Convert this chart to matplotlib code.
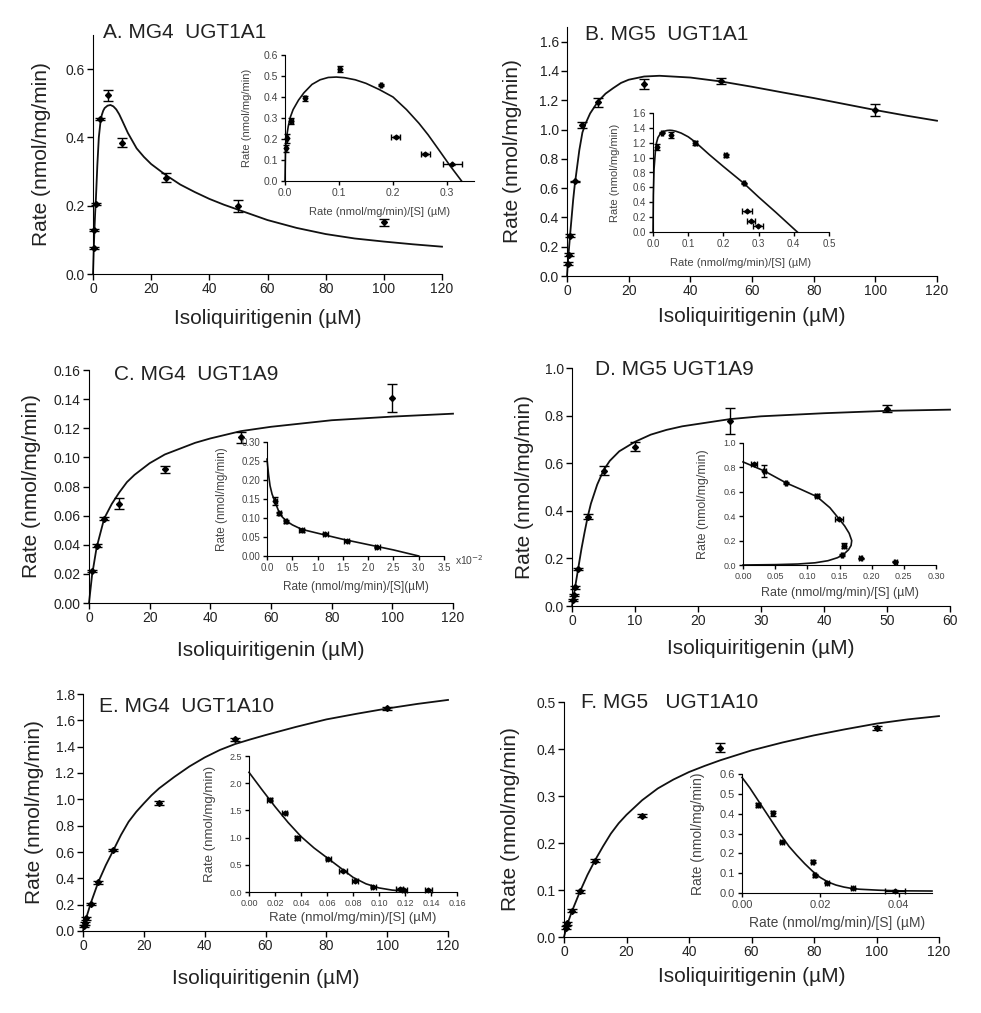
import numpy as np
import matplotlib.pyplot as plt

plt.rcParams['font.family'] = ['Liberation Sans', 'DejaVu Sans']

W, H = 981, 1013

# ---- A. MG4 UGT1A1 ----
a_s = [0.25, 0.5, 1, 2.5, 5, 10, 25, 50, 100]
a_v = [0.075, 0.13, 0.205, 0.454, 0.524, 0.385, 0.282, 0.200, 0.152]
a_err = [0.003, 0.003, 0.004, 0.003, 0.016, 0.013, 0.013, 0.017, 0.010]
a_fit_s = [0, 0.25, 0.5, 0.75, 1, 1.5, 2, 2.5, 3, 3.5, 4, 5, 6, 7, 8, 9, 10, 12, 15, 17.5, 20, 25, 30, 35, 40,
           45, 50, 60, 70, 80, 90, 100, 110, 120]
a_fit_v = [0, 0.07, 0.13, 0.18, 0.22, 0.32, 0.40, 0.44, 0.465, 0.478, 0.486, 0.493, 0.495, 0.491, 0.482, 0.468,
           0.45, 0.413, 0.368, 0.343, 0.322, 0.29, 0.262, 0.24, 0.22, 0.203, 0.188, 0.158, 0.135, 0.117, 0.104,
           0.095, 0.087, 0.08]
a_in_x = [0.31, 0.26, 0.205, 0.178, 0.101, 0.037, 0.012, 0.004, 0.002]
a_in_y = [0.080, 0.130, 0.211, 0.457, 0.533, 0.394, 0.287, 0.203, 0.155]
a_in_xerr = [0.018, 0.008, 0.008, 0.002, 0.002, 0.002, 0.002, 0.002, 0.002]
a_in_yerr = [0.003, 0.005, 0.005, 0.006, 0.015, 0.012, 0.015, 0.02, 0.015]
a_in_fit_x = [0.0, 0.0005, 0.001, 0.003, 0.006, 0.01, 0.015, 0.025, 0.035, 0.05, 0.065, 0.08, 0.095, 0.11,
              0.13, 0.15, 0.175, 0.2, 0.225, 0.248, 0.265, 0.285, 0.305, 0.327]
a_in_fit_y = [0.0, 0.08, 0.16, 0.21, 0.26, 0.305, 0.34, 0.385, 0.42, 0.46, 0.482, 0.493, 0.495, 0.492,
              0.482, 0.465, 0.435, 0.40, 0.34, 0.275, 0.22, 0.148, 0.075, 0.0]

# ---- B. MG5 UGT1A1 ----
b_s = [0.25, 0.5, 1, 2.5, 5, 10, 25, 50, 100]
b_v = [0.085, 0.145, 0.274, 0.646, 1.03, 1.185, 1.31, 1.333, 1.133]
b_err = [0.01, 0.01, 0.01, 0.005, 0.02, 0.03, 0.035, 0.02, 0.04]
b_fit_s = [0, 0.25, 0.5, 1, 1.5, 2, 2.5, 3, 4, 5, 6, 7.5, 10, 12.5, 15, 17.5, 20, 25, 30, 40, 50, 60, 70, 80,
           90, 100, 110, 120]
b_fit_v = [0, 0.08, 0.15, 0.28, 0.40, 0.52, 0.62, 0.70, 0.86, 0.98, 1.04, 1.11, 1.19, 1.245, 1.283, 1.318,
           1.34, 1.362, 1.367, 1.355, 1.328, 1.292, 1.253, 1.215, 1.174, 1.133, 1.095, 1.06]
b_in_x = [0.011, 0.026, 0.052, 0.12, 0.206, 0.258, 0.267, 0.279, 0.298]
b_in_y = [1.145, 1.337, 1.31, 1.2, 1.034, 0.655, 0.276, 0.143, 0.085]
b_in_xerr = [0.002, 0.002, 0.002, 0.004, 0.004, 0.002, 0.015, 0.012, 0.014]
b_in_yerr = [0.04, 0.01, 0.04, 0.03, 0.02, 0.005, 0.005, 0.005, 0.005]
b_in_fit_x = [0, 0.001, 0.003, 0.007, 0.01, 0.014, 0.02, 0.025, 0.032, 0.04, 0.048, 0.055, 0.065, 0.08, 0.1,
              0.12, 0.16, 0.2, 0.258, 0.3, 0.35, 0.41]
b_in_fit_y = [0, 0.5, 0.85, 1.1, 1.2, 1.27, 1.315, 1.34, 1.355, 1.365, 1.368, 1.365, 1.355, 1.33, 1.28,
              1.21, 1.04, 0.88, 0.655, 0.47, 0.26, 0.0]

# ---- C. MG4 UGT1A9 ----
c_s = [1, 2.5, 5, 10, 25, 50, 100]
c_v = [0.022, 0.0394, 0.0578, 0.0683, 0.0917, 0.1137, 0.141]
c_err = [0.001, 0.001, 0.001, 0.004, 0.0025, 0.004, 0.0097]
c_fit_s = [0, 1, 2.5, 5, 7.5, 10, 12.5, 15, 17.5, 20, 25, 30, 35, 40, 50, 60, 80, 100, 120]
c_fit_v = [0, 0.019, 0.038, 0.058, 0.068, 0.076, 0.083, 0.088, 0.092, 0.096, 0.102, 0.106, 0.11, 0.113,
           0.118, 0.121, 0.1255, 0.128, 0.13]
c_in_x = [0.164, 0.243, 0.375, 0.69, 1.15, 1.58, 2.18]
c_in_y = [0.145, 0.113, 0.091, 0.0675, 0.059, 0.039, 0.023]
c_in_xerr = [0.03, 0.03, 0.03, 0.05, 0.05, 0.05, 0.05]
c_in_yerr = [0.01, 0.004, 0.003, 0.004, 0.002, 0.002, 0.002]
c_in_fit_x = [0, 0.03, 0.06, 0.1, 0.16, 0.24, 0.3, 0.375, 0.5, 0.69, 1.0, 1.5, 2.0, 2.5, 3.0]
c_in_fit_y = [0.255, 0.215, 0.185, 0.163, 0.142, 0.115, 0.103, 0.093, 0.082, 0.07, 0.06, 0.044, 0.03,
              0.016, 0.0]

# ---- D. MG5 UGT1A9 ----
d_s = [0.1, 0.25, 0.5, 1, 2.5, 5, 10, 25, 50]
d_v = [0.025, 0.047, 0.078, 0.156, 0.376, 0.569, 0.67, 0.776, 0.829]
d_err = [0.005, 0.005, 0.005, 0.005, 0.01, 0.02, 0.02, 0.055, 0.015]
d_fit_s = [0, 0.25, 0.5, 1, 1.5, 2, 2.5, 3, 4, 5, 6, 7.5, 10, 12.5, 15, 17.5, 20, 25, 30, 40, 50, 60]
d_fit_v = [0, 0.04, 0.08, 0.16, 0.24, 0.31, 0.376, 0.43, 0.51, 0.57, 0.61, 0.65, 0.69, 0.72, 0.74, 0.755,
           0.765, 0.785, 0.797, 0.81, 0.82, 0.825]
d_in_x = [0.017, 0.033, 0.067, 0.115, 0.149, 0.157, 0.154, 0.183, 0.237]
d_in_y = [0.826, 0.771, 0.673, 0.569, 0.373, 0.158, 0.082, 0.054, 0.027]
d_in_xerr = [0.004, 0.002, 0.002, 0.003, 0.006, 0.003, 0.002, 0.002, 0.002]
d_in_yerr = [0.01, 0.05, 0.01, 0.015, 0.008, 0.02, 0.005, 0.005, 0.005]
d_in_fit_x = [0.0, 0.033, 0.067, 0.09, 0.115, 0.135, 0.149, 0.158, 0.165, 0.169, 0.168, 0.164, 0.157,
              0.147, 0.132, 0.112, 0.085, 0.05, 0.0]
d_in_fit_y = [0.845, 0.771, 0.673, 0.62, 0.56, 0.47, 0.38, 0.32, 0.26, 0.2, 0.16, 0.125, 0.09, 0.06,
              0.035, 0.018, 0.008, 0.003, 0.0]

# ---- E. MG4 UGT1A10 ----
e_s = [0.25, 0.5, 1, 2.5, 5, 10, 25, 50, 100]
e_v = [0.037, 0.057, 0.095, 0.205, 0.37, 0.614, 0.974, 1.455, 1.691]
e_err = [0.01, 0.01, 0.01, 0.005, 0.01, 0.01, 0.015, 0.01, 0.01]
e_fit_s = [0, 1, 2.5, 5, 7.5, 10, 12.5, 15, 17.5, 20, 22.5, 25, 30, 35, 40, 45, 50, 55, 60, 70, 80, 90,
           100, 110, 120]
e_fit_v = [0, 0.094, 0.208, 0.37, 0.5, 0.614, 0.73, 0.83, 0.905, 0.969, 1.03, 1.083, 1.17, 1.25, 1.318,
           1.375, 1.42, 1.455, 1.488, 1.55, 1.607, 1.65, 1.69, 1.725, 1.755]
e_in_x = [0.016, 0.0275, 0.037, 0.061, 0.0725, 0.0816, 0.0957, 0.1158, 0.1196, 0.138]
e_in_y = [1.70, 1.456, 0.99, 0.614, 0.38, 0.209, 0.098, 0.049, 0.03, 0.037]
e_in_xerr = [0.002, 0.002, 0.002, 0.002, 0.003, 0.002, 0.002, 0.003, 0.002, 0.003]
e_in_yerr = [0.02, 0.02, 0.04, 0.02, 0.02, 0.02, 0.02, 0.02, 0.02, 0.02]
e_in_fit_x = [0, 0.01, 0.02, 0.03, 0.04, 0.05, 0.06, 0.07, 0.08, 0.09, 0.1, 0.11, 0.12]
e_in_fit_y = [2.2, 1.88, 1.57, 1.28, 1.02, 0.81, 0.63, 0.45, 0.27, 0.15, 0.075, 0.035, 0.015]

# ---- F. MG5 UGT1A10 ----
f_s = [0.5, 1, 2.5, 5, 10, 25, 50, 100]
f_v = [0.02, 0.029, 0.056, 0.097, 0.162, 0.258, 0.403, 0.445]
f_err = [0.003, 0.003, 0.003, 0.003, 0.003, 0.003, 0.01, 0.004]
f_fit_s = [0, 1, 2.5, 5, 7.5, 10, 12.5, 15, 17.5, 20, 25, 30, 35, 40, 45, 50, 60, 70, 80, 90, 100, 110, 120]
f_fit_v = [0, 0.026, 0.054, 0.095, 0.132, 0.164, 0.193, 0.22, 0.242, 0.26, 0.291, 0.316, 0.335, 0.351,
           0.364, 0.376, 0.397, 0.414, 0.429, 0.442, 0.454, 0.463, 0.47]
f_in_x = [0.0041, 0.0078, 0.0103, 0.018, 0.0186, 0.0216, 0.0283, 0.039]
f_in_y = [0.443, 0.401, 0.256, 0.157, 0.089, 0.052, 0.024, 0.01]
f_in_xerr = [0.0004, 0.0003, 0.0005, 0.0004, 0.0004, 0.0005, 0.0006, 0.0025]
f_in_yerr = [0.01, 0.012, 0.006, 0.008, 0.006, 0.004, 0.003, 0.003]
f_in_fit_x = [0, 0.002, 0.004, 0.006, 0.008, 0.010, 0.012, 0.014, 0.016, 0.018, 0.020, 0.022, 0.024,
              0.026, 0.028, 0.03, 0.035, 0.04, 0.0485]
f_in_fit_y = [0.583, 0.53, 0.47, 0.41, 0.35, 0.29, 0.235, 0.19, 0.148, 0.11, 0.078, 0.055, 0.04, 0.03,
              0.023, 0.019, 0.014, 0.011, 0.01]

XLAB = 'Isoliquiritigenin (\u00b5M)'
YLAB = 'Rate (nmol/mg/min)'
TXT = '#222222'
INTXT = '#444444'

fig = plt.figure(figsize=(W / 100, H / 100), dpi=100)


def px_axes(l, t, r, b):
    ax = fig.add_axes([l / W, 1 - b / H, (r - l) / W, (b - t) / H])
    ax.patch.set_alpha(0)
    for s in ['top', 'right']:
        ax.spines[s].set_visible(False)
    return ax


def finish(ax, box, xlim, ylim, xt, yt, xfmt, yfmt, fs, color, xlab, ylab, lfs, ylab_x, xlab_y, tl):
    l, t, r, b = box
    ax.set_xlim(*xlim)
    ax.set_ylim(*ylim)
    ax.set_xticks(xt)
    ax.set_yticks(yt)
    ax.set_xticklabels([xfmt % v for v in xt])
    ax.set_yticklabels([yfmt % v for v in yt])
    ax.tick_params(direction='out', length=tl, width=1, labelsize=fs, labelcolor=color, pad=2)
    ax.set_xlabel(xlab, fontsize=lfs, color=color, va='center')
    ax.set_ylabel(ylab, fontsize=lfs, color=color, va='center')
    ax.yaxis.set_label_coords((ylab_x - l) / (r - l), 0.5)
    ax.xaxis.set_label_coords(0.5, (b - xlab_y) / (b - t))


def data(ax, x, y, yerr, xerr, fx, fy, ms, cap, lw):
    ax.plot(fx, fy, color='#111111', lw=lw, clip_on=False, zorder=2)
    cont = ax.errorbar(x, y, yerr=yerr, xerr=xerr, fmt='D', ms=ms, color='black',
                       ecolor='black', elinewidth=1.0, capsize=cap, capthick=1.0, zorder=3)
    arts = [cont.lines[0]] + list(cont.lines[1]) + list(cont.lines[2])
    for art in arts:
        art.set_clip_on(False)


def main(box, s, v, err, fs_, fv_, xmax, xstep, ymax, yt, yfmt, title, tx, ty, ylab_x, xlab_y):
    ax = px_axes(*box)
    data(ax, s, v, err, None, fs_, fv_, 3.0, 3.5, 1.3)
    finish(ax, box, (0, xmax), (0, ymax), list(range(0, xmax + 1, xstep)), yt, '%d', yfmt,
           10, TXT, XLAB, YLAB, 15, ylab_x, xlab_y, 4)
    fig.text(tx / W, 1 - ty / H, title, fontsize=15, color=TXT, ha='left', va='center')
    return ax


def inset(box, x, y, xerr, yerr, fx, fy, xlim, ylim, xt, yt, xfmt, yfmt, fs, lfs, xlab, ylab_x, xlab_y):
    ax = px_axes(*box)
    data(ax, x, y, yerr, xerr, fx, fy, 2.5, 2.0, 1.2)
    finish(ax, box, xlim, ylim, xt, yt, xfmt, yfmt, fs, INTXT, xlab, YLAB, lfs, ylab_x, xlab_y, 3)
    return ax


def steps(a, b, n):
    return [round(a + (b - a) * i / n, 4) for i in range(n + 1)]


INX = 'Rate (nmol/mg/min)/[S] (\u00b5M)'

# A
main((93, 35, 442, 274), a_s, a_v, a_err, a_fit_s, a_fit_v, 120, 20, 0.7,
     steps(0, 0.6, 3), '%.1f', 'A. MG4  UGT1A1', 103, 32, 42, 318)
inset((285, 55, 474, 181), a_in_x, a_in_y, a_in_xerr, a_in_yerr, a_in_fit_x, a_in_fit_y,
      (0, 0.35), (0, 0.6), steps(0, 0.3, 3), steps(0, 0.6, 6), '%.1f', '%.1f', 7.5, 8, INX, 247, 212)

# B
main((567, 27, 937, 276), b_s, b_v, b_err, b_fit_s, b_fit_v, 120, 20, 1.7,
     steps(0, 1.6, 8), '%.1f', 'B. MG5  UGT1A1', 585, 34, 513, 317)
inset((653, 113, 829, 232), b_in_x, b_in_y, b_in_xerr, b_in_yerr, b_in_fit_x, b_in_fit_y,
      (0, 0.5), (0, 1.6), steps(0, 0.5, 5), steps(0, 1.6, 8), '%.1f', '%.1f', 7, 8, INX, 615, 263)

# C
main((89, 370, 453, 603), c_s, c_v, c_err, c_fit_s, c_fit_v, 120, 20, 0.16,
     steps(0, 0.16, 8), '%.2f', 'C. MG4  UGT1A9', 114, 374, 32, 650)
inset((267, 442, 444, 556), c_in_x, c_in_y, c_in_xerr, c_in_yerr, c_in_fit_x, c_in_fit_y,
      (0, 3.5), (0, 0.30), steps(0, 3.5, 7), steps(0, 0.30, 6), '%.1f', '%.2f', 7, 8.5,
      'Rate (nmol/mg/min)/[S](\u00b5M)', 222, 587)
fig.text(455 / W, 1 - 560 / H, 'x10$^{-2}$', fontsize=7.5, color=INTXT, ha='left', va='center')

# D
main((572, 368, 950, 606), d_s, d_v, d_err, d_fit_s, d_fit_v, 60, 10, 1.0,
     steps(0, 1.0, 5), '%.1f', 'D. MG5 UGT1A9', 595, 369, 525, 648)
inset((743, 443, 936, 565), d_in_x, d_in_y, d_in_xerr, d_in_yerr, d_in_fit_x, d_in_fit_y,
      (0, 0.30), (0, 1.0), steps(0, 0.30, 6), steps(0, 1.0, 5), '%.2f', '%.1f', 6.5, 9, INX, 703, 593)

# E
main((83, 694, 448, 931), e_s, e_v, e_err, e_fit_s, e_fit_v, 120, 20, 1.8,
     steps(0, 1.8, 9), '%.1f', 'E. MG4  UGT1A10', 99, 706, 35, 978)
inset((249, 756, 457, 892), e_in_x, e_in_y, e_in_xerr, e_in_yerr, e_in_fit_x, e_in_fit_y,
      (0, 0.16), (0, 2.5), steps(0, 0.16, 8), steps(0, 2.5, 5), '%.2f', '%.1f', 6.5, 9.5, INX, 210, 918)

# F
main((564, 702, 939, 937), f_s, f_v, f_err, f_fit_s, f_fit_v, 120, 20, 0.5,
     steps(0, 0.5, 5), '%.1f', 'F. MG5   UGT1A10', 581, 703, 511, 976)
inset((742, 774, 932, 893), f_in_x, f_in_y, f_in_xerr, f_in_yerr, f_in_fit_x, f_in_fit_y,
      (0, 0.0485), (0, 0.6), [0, 0.02, 0.04], steps(0, 0.6, 6), '%.2f', '%.1f', 8, 10, INX, 698, 923)

fig.savefig('out.png', dpi=100)
